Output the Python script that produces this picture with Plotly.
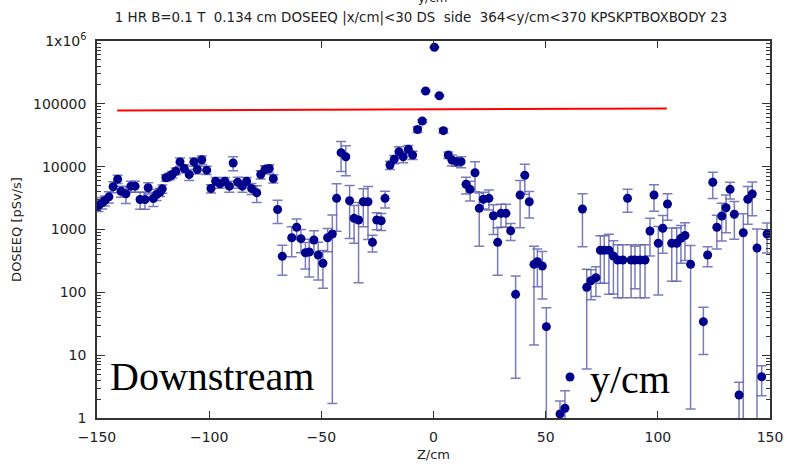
import plotly.graph_objects as go

# ---- data ----
z_cm = [-149.4, -147.7, -146.5, -144.7, -142.8, -140.8, -139.3, -137.1, -134.9, -133.0,
        -130.8, -128.6, -127.2, -124.9, -123.4, -121.9, -120.9, -119.3, -117.5, -116.5,
        -114.9, -113.0, -111.1, -108.9, -106.8, -105.3, -103.3, -101.1, -99.2, -97.1,
        -95.2, -93.0, -91.0, -89.3, -87.3, -85.2, -83.3, -81.1, -78.8, -77.0,
        -75.1, -73.2, -71.4, -69.5, -67.4,
        -63.2, -61.0, -59.1, -57.1, -55.4, -53.3, -51.4, -49.3, -47.2, -45.1,
        -43.2, -41.2, -39.1, -37.4, -35.4, -33.4, -31.3, -29.2, -27.2, -25.3,
        -23.3, -21.6, -19.4, -17.5, -15.4, -13.5, -11.2, -9.3, -7.1, -5.0,
        -3.5, 0.4, 2.6, 4.4, 6.6, 8.2, 10.3, 12.3, 14.5, 16.3,
        18.5, 20.4, 22.2, 24.7, 26.7, 28.6, 30.1, 32.3, 34.4, 36.6,
        38.6, 40.7, 42.7, 44.8, 46.3, 48.5, 50.3, 56.4, 58.6, 66.4,
        68.3, 70.2, 72.4, 74.4, 76.1, 78.2, 80.2, 82.1, 84.4, 86.5,
        88.1, 89.8, 92.1, 94.3, 96.5, 98.3, 100.2, 102.2, 104.3, 106.2,
        108.4, 110.3, 112.1, 114.6, 120.3, 122.2, 124.5, 126.3, 128.5, 130.4,
        132.2, 134.1, 136.2, 138.1, 140.1, 142.1, 144.2, 146.3, 148.7]

doseeq = [2410, 2660, 2890, 3310, 4790, 6320, 4070, 3700, 4900, 4900,
          3000, 3000, 4610, 3110, 3610, 3930, 4440, 6650, 7050, 7500,
          8470, 11900, 9350, 7500, 11900, 9020, 12900, 8790, 4500, 5870,
          5340, 5870, 4900, 11460, 5660, 4900, 5870, 4500, 3840, 7500,
          9020, 9350, 6450, 2080, 374,
          740, 1084, 714, 427, 438, 681, 393, 290, 740, 848,
          3136, 16700, 14400, 2873, 1507, 1416, 2770, 2770, 625, 1416,
          1380, 3136, 10620, 13100, 17300, 14400, 18900, 15300, 39000, 53300,
          160000, 794000, 134700, 37400, 15300, 12760, 12000, 12000, 5240, 4360,
          8010, 2175, 3024, 3136, 1658, 625, 1810, 1810, 957, 93,
          3540, 7290, 2770, 279, 307, 262, 28.4, 1.16, 1.43, 2120,
          120, 153, 171, 467, 467, 467, 378, 327, 327, 3136,
          327, 327, 327, 327, 946, 3540, 603, 1045, 2545, 603,
          603, 724, 802, 279, 34.1, 393, 5640, 1084, 1640, 2222,
          4360, 1746, 2.32, 889, 3024, 3670, 507, 4.54, 848]

rel_err = [0.2, 0.2, 0.18, 0.2, 0.2, 0.15, 0.2, 0.3, 0.2, 0.2,
           0.3, 0.3, 0.2, 0.25, 0.2, 0.15, 0.15, 0.12, 0.12, 0.12,
           0.12, 0.15, 0.15, 0.2, 0.15, 0.15, 0.15, 0.15, 0.15, 0.15,
           0.15, 0.15, 0.2, 0.25, 0.2, 0.2, 0.15, 0.2, 0.3, 0.15,
           0.15, 0.15, 0.15, 0.4, 0.5,
           0.5, 0.35, 0.4, 0.45, 0.6, 0.4, 0.6, 0.6, 0.4, 0.998,
           0.7, 0.5, 0.5, 0.75, 0.6, 0.9, 0.6, 0.75, 0.3, 0.3,
           0.3, 0.3, 0.15, 0.15, 0.2, 0.2, 0.15, 0.15, 0.1, 0.05,
           0.03, 0.02, 0.03, 0.08, 0.12, 0.2, 0.15, 0.2, 0.3, 0.35,
           0.5, 0.75, 0.3, 0.35, 0.5, 0.7, 0.4, 0.4, 0.3, 0.954,
           0.7, 0.5, 0.45, 0.948, 0.6, 0.7, 1.0, 0.6, 0.9, 0.75,
           0.95, 0.5, 0.5, 0.7, 0.7, 0.8, 0.75, 0.75, 0.75, 0.4,
           0.75, 0.65, 0.75, 0.75, 0.6, 0.45, 0.85, 0.6, 0.45, 0.75,
           0.75, 0.6, 0.6, 0.995, 0.7, 0.35, 0.45, 0.55, 0.6, 0.6,
           0.3, 0.6, 0.6, 1.0, 0.6, 0.55, 1.0, 0.5, 0.5]

dose_err = [d * r for d, r in zip(doseeq, rel_err)]

ref_z = [-141, 104]
ref_dose = [78400, 84300]

y_tickvals = [1, 10, 100, 1000, 10000, 100000, 1000000]
y_ticktext = ["1", "10", "100", "1000", "10000", "100000", "1x10<sup>6</sup>"]
x_tickvals = [-150, -100, -50, 0, 50, 100, 150]

title_text = "1 HR B=0.1 T  0.134 cm DOSEEQ |x/cm|<30 DS  side  364<y/cm<370 KPSKPTBOXBODY 23"

# ---- figure ----
fig = go.Figure()

fig.add_trace(go.Scatter(
    x=ref_z, y=ref_dose, mode="lines",
    line=dict(color="#ff0000", width=2),
    showlegend=False, hoverinfo="skip"))

fig.add_trace(go.Scatter(
    x=z_cm, y=doseeq, mode="markers", name="y/cm",
    marker=dict(color="#00008c", size=9),
    error_y=dict(type="data", array=dose_err, symmetric=True,
                 color="rgba(100,100,175,0.85)", thickness=1.5, width=5)))

font_sans = "DejaVu Sans"
axis_common = dict(showline=True, linecolor="#333333", linewidth=1.5, mirror="ticks",
                   ticks="inside", tickcolor="#333333", showgrid=False, zeroline=False,
                   automargin=False,
                   tickfont=dict(family=font_sans, size=14, color="#222222"))

fig.update_layout(
    width=786, height=467,
    margin=dict(l=97, r=16, t=41, b=49),
    paper_bgcolor="white", plot_bgcolor="white",
    title=dict(text=title_text, x=421 / 786, xanchor="center", xref="container",
               y=1 - 17 / 467, yanchor="middle",
               font=dict(family=font_sans, size=13.4, color="#222222")),
    xaxis=dict(range=[-150, 150], tickvals=x_tickvals, ticklen=7, ticklabelstandoff=5,
               title=dict(text="Z/cm", font=dict(family=font_sans, size=13, color="#222222"), standoff=6),
               **axis_common),
    yaxis=dict(type="log", range=[0, 6], tickvals=y_tickvals, ticktext=y_ticktext, ticklen=8,
               minor=dict(ticks="inside", ticklen=4, dtick="D1", tickcolor="#333333"),
               ticklabelstandoff=6,
               title=dict(text="DOSEEQ [pSv/s]", font=dict(family=font_sans, size=13, color="#222222"), standoff=8),
               **axis_common),
    showlegend=True,
    legend=dict(x=(550 - 97) / 673, y=(418 - 377) / 377, xanchor="left", yanchor="middle",
                bgcolor="rgba(0,0,0,0)", borderwidth=0,
                font=dict(family="Liberation Serif", size=40, color="black")),
    annotations=[
        dict(text="Downstream", xref="paper", yref="paper", x=(108 - 97) / 673, y=(418 - 376) / 377,
             xanchor="left", yanchor="middle", showarrow=False,
             font=dict(family="Liberation Serif", size=40, color="black")),
        dict(text="y/cm", xref="paper", yref="paper", x=(432 - 97) / 673, y=1 + (41 - 7) / 377,
             xanchor="center", yanchor="bottom", showarrow=False,
             font=dict(family=font_sans, size=12, color="#222222")),
    ],
)

fig.write_html("out.html")
